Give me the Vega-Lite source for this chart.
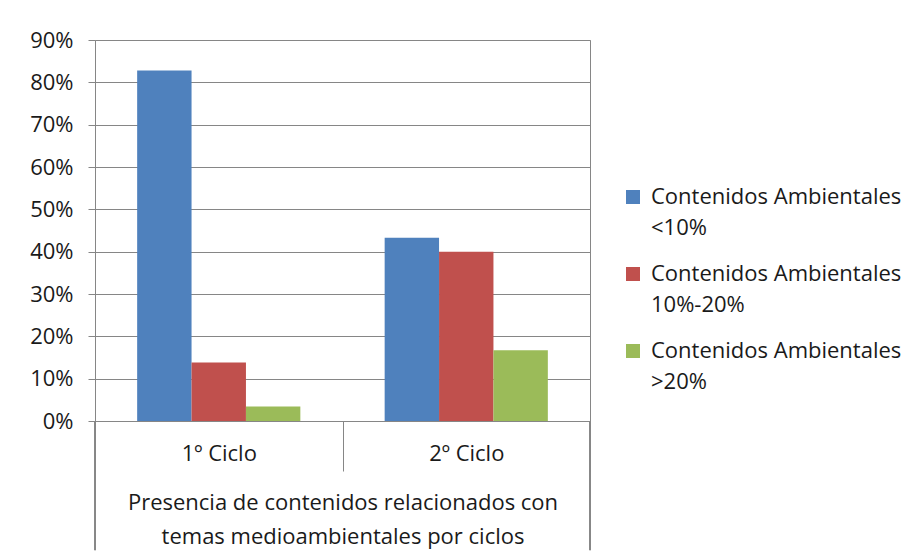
{
  "$schema": "https://vega.github.io/schema/vega-lite/v6.json",
  "width": 495,
  "height": 381,
  "autosize": "none",
  "padding": {"left": 95, "top": 40, "right": 324, "bottom": 138},
  "background": "white",
  "config": {
    "font": "Open Sans",
    "view": {"stroke": "#868686", "strokeWidth": 1},
    "style": {"guide-label": {"lineHeight": 31}}
  },
  "data": {
    "values": [
      {"ciclo": "1º Ciclo", "grupo": "Contenidos Ambientales <10%", "valor": 82.8},
      {"ciclo": "1º Ciclo", "grupo": "Contenidos Ambientales 10%-20%", "valor": 13.8},
      {"ciclo": "1º Ciclo", "grupo": "Contenidos Ambientales >20%", "valor": 3.4},
      {"ciclo": "2º Ciclo", "grupo": "Contenidos Ambientales <10%", "valor": 43.3},
      {"ciclo": "2º Ciclo", "grupo": "Contenidos Ambientales 10%-20%", "valor": 40.0},
      {"ciclo": "2º Ciclo", "grupo": "Contenidos Ambientales >20%", "valor": 16.7}
    ]
  },
  "layer": [
    {
      "mark": {"type": "bar"},
      "encoding": {
        "x": {
          "field": "ciclo",
          "type": "nominal",
          "sort": ["1º Ciclo", "2º Ciclo"],
          "scale": {"paddingInner": 0, "paddingOuter": 0},
          "axis": {
            "title": ["Presencia de contenidos relacionados con", "temas medioambientales por ciclos"],
            "titleFont": "Open Sans",
            "titleFontSize": 22,
            "titleFontWeight": "normal",
            "titleColor": "#1a1a1a",
            "titleLineHeight": 34,
            "titleBaseline": "top",
            "titleAlign": "center",
            "titleAnchor": "middle",
            "titleX": 247.5,
            "titleY": 71,
            "domain": false,
            "grid": false,
            "ticks": true,
            "tickBand": "extent",
            "tickSize": 50,
            "tickColor": "#868686",
            "tickWidth": 1,
            "labelAngle": 0,
            "labelFontSize": 22,
            "labelColor": "#1a1a1a",
            "labelPadding": -28
          }
        },
        "xOffset": {
          "field": "grupo",
          "type": "nominal",
          "sort": ["Contenidos Ambientales <10%", "Contenidos Ambientales 10%-20%", "Contenidos Ambientales >20%"],
          "scale": {"paddingInner": 0, "paddingOuter": 0.775}
        },
        "y": {
          "field": "valor",
          "type": "quantitative",
          "scale": {"domain": [0, 90], "nice": false},
          "axis": {
            "title": null,
            "values": [0, 10, 20, 30, 40, 50, 60, 70, 80, 90],
            "labelExpr": "datum.value + '%'",
            "domain": false,
            "grid": true,
            "gridColor": "#868686",
            "gridWidth": 1,
            "ticks": true,
            "tickSize": 7,
            "tickColor": "#868686",
            "labelFontSize": 22,
            "labelColor": "#1a1a1a",
            "labelPadding": 15
          }
        },
        "color": {
          "field": "grupo",
          "type": "nominal",
          "sort": ["Contenidos Ambientales <10%", "Contenidos Ambientales 10%-20%", "Contenidos Ambientales >20%"],
          "scale": {
            "domain": ["Contenidos Ambientales <10%", "Contenidos Ambientales 10%-20%", "Contenidos Ambientales >20%"],
            "range": ["#4F81BD", "#C0504D", "#9BBB59"]
          },
          "legend": {
            "title": null,
            "orient": "none",
            "legendX": 527,
            "legendY": 146,
            "padding": 0,
            "symbolType": "square",
            "symbolSize": 196,
            "symbolStrokeWidth": 0,
            "symbolOpacity": 1,
            "labelFontSize": 22,
            "labelColor": "#1a1a1a",
            "labelBaseline": "middle",
            "labelOffset": 7,
            "labelLimit": 400,
            "rowPadding": 24,
            "labelExpr": "['Contenidos Ambientales', substring(datum.label, 23)]"
          }
        }
      }
    },
    {
      "mark": {"type": "rule", "color": "#868686", "strokeWidth": 1},
      "encoding": {
        "x": {"datum": "2º Ciclo", "type": "nominal", "bandPosition": 1},
        "y": {"datum": 0, "type": "quantitative"},
        "y2": {"datum": -30.5}
      }
    },
    {
      "mark": {"type": "rule", "color": "#868686", "strokeWidth": 1},
      "encoding": {
        "x": {"datum": "1º Ciclo", "type": "nominal", "bandPosition": 0},
        "y": {"datum": 0, "type": "quantitative"},
        "y2": {"datum": -30.5}
      }
    }
  ]
}
